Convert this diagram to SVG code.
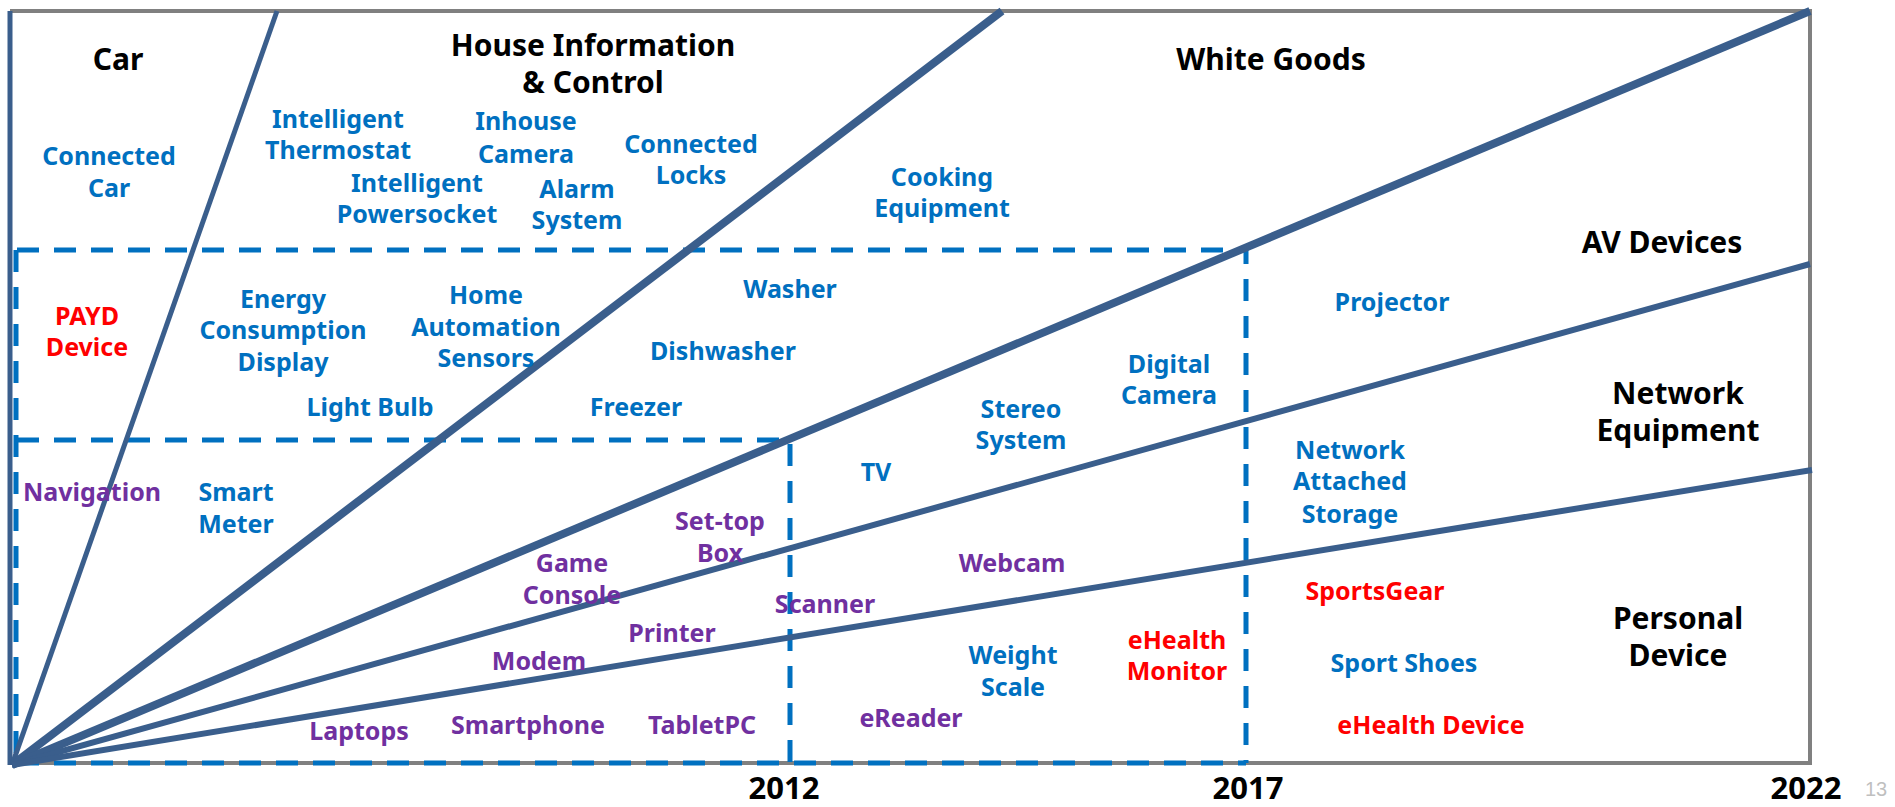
<svg xmlns="http://www.w3.org/2000/svg" width="1895" height="807" viewBox="0 0 1895 807">
<style>
text{font-family:"Noto Sans","Open Sans","Liberation Sans",sans-serif;font-weight:bold;text-anchor:middle}
.h{font-size:30px;fill:#000}
.b{font-size:25px;fill:#0070C0}
.p{font-size:25px;fill:#7030A0}
.r{font-size:25px;fill:#FF0000}
.y{font-size:31px;fill:#000}
.fan{stroke:#3A5E8C;fill:none;stroke-linecap:butt}
.dash{stroke:#0070C0;stroke-width:5;fill:none;stroke-dasharray:22 15}
</style>
<rect width="1895" height="807" fill="#fff"/>
<g id="connectors">
<path d="M10 763 H1810 V11 H10" fill="none" stroke="#808080" stroke-width="4"/>
<path class="dash" d="M17 250 H1246 V763 M17 440 H790 V763 M16 250 V763 M17 763 H1246"/>
<line class="fan" x1="10" y1="765" x2="10" y2="11" stroke-width="5"/>
<line class="fan" x1="12" y1="765" x2="277" y2="11" stroke-width="5"/>
<line class="fan" x1="12" y1="765" x2="1002" y2="11" stroke-width="8"/>
<line class="fan" x1="12" y1="765" x2="1810" y2="11" stroke-width="8"/>
<line class="fan" x1="12" y1="765" x2="1810" y2="264" stroke-width="6"/>
<line class="fan" x1="12" y1="765" x2="1812" y2="470" stroke-width="6"/>
</g>
<g id="cat-car"><text class="h" x="118" y="70">Car</text></g>
<g id="cat-house"><text class="h" x="593" y="56">House Information</text><text class="h" x="593" y="93">&amp; Control</text></g>
<g id="cat-white"><text class="h" x="1271" y="70">White Goods</text></g>
<g id="cat-av"><text class="h" x="1662" y="253">AV Devices</text></g>
<g id="cat-net"><text class="h" x="1678" y="404">Network</text><text class="h" x="1678" y="441">Equipment</text></g>
<g id="cat-personal"><text class="h" x="1678" y="629">Personal</text><text class="h" x="1678" y="666">Device</text></g>
<g id="y2012"><text class="y" x="784" y="799">2012</text></g>
<g id="y2017"><text class="y" x="1248" y="799">2017</text></g>
<g id="y2022"><text class="y" x="1806" y="799">2022</text></g>
<g id="page"><text x="1876" y="796" style="font-size:20px;font-weight:normal;fill:#BFBFBF;font-family:'Liberation Sans Narrow','Liberation Sans',sans-serif">13</text></g>

<g id="connected-car"><text class="b" x="109" y="165">Connected</text><text class="b" x="109" y="197">Car</text></g>
<g id="thermostat"><text class="b" x="338" y="128">Intelligent</text><text class="b" x="338" y="159">Thermostat</text></g>
<g id="inhouse-camera"><text class="b" x="526" y="130">Inhouse</text><text class="b" x="526" y="163">Camera</text></g>
<g id="powersocket"><text class="b" x="417" y="192">Intelligent</text><text class="b" x="417" y="223">Powersocket</text></g>
<g id="alarm"><text class="b" x="577" y="198">Alarm</text><text class="b" x="577" y="229">System</text></g>
<g id="locks"><text class="b" x="691" y="153">Connected</text><text class="b" x="691" y="184">Locks</text></g>
<g id="cooking"><text class="b" x="942" y="186">Cooking</text><text class="b" x="942" y="217">Equipment</text></g>
<g id="payd"><text class="r" x="87" y="325">PAYD</text><text class="r" x="87" y="356">Device</text></g>
<g id="energy"><text class="b" x="283" y="308">Energy</text><text class="b" x="283" y="339">Consumption</text><text class="b" x="283" y="371">Display</text></g>
<g id="home-auto"><text class="b" x="486" y="304">Home</text><text class="b" x="486" y="336">Automation</text><text class="b" x="486" y="367">Sensors</text></g>
<g id="washer"><text class="b" x="790" y="298">Washer</text></g>
<g id="dishwasher"><text class="b" x="723" y="360">Dishwasher</text></g>
<g id="lightbulb"><text class="b" x="370" y="416">Light Bulb</text></g>
<g id="freezer"><text class="b" x="636" y="416">Freezer</text></g>
<g id="digicam"><text class="b" x="1169" y="373">Digital</text><text class="b" x="1169" y="404">Camera</text></g>
<g id="stereo"><text class="b" x="1021" y="418">Stereo</text><text class="b" x="1021" y="449">System</text></g>
<g id="projector"><text class="b" x="1392" y="311">Projector</text></g>
<g id="tv"><text class="b" x="876" y="481">TV</text></g>
<g id="nas"><text class="b" x="1350" y="459">Network</text><text class="b" x="1350" y="490">Attached</text><text class="b" x="1350" y="523">Storage</text></g>
<g id="navigation"><text class="p" x="92" y="501">Navigation</text></g>
<g id="smartmeter"><text class="b" x="236" y="501">Smart</text><text class="b" x="236" y="533">Meter</text></g>
<g id="settop"><text class="p" x="720" y="530">Set-top</text><text class="p" x="720" y="562">Box</text></g>
<g id="game"><text class="p" x="572" y="572">Game</text><text class="p" x="572" y="604">Console</text></g>
<g id="webcam"><text class="p" x="1012" y="572">Webcam</text></g>
<g id="scanner"><text class="p" x="825" y="613">Scanner</text></g>
<g id="sportsgear"><text class="r" x="1375" y="600">SportsGear</text></g>
<g id="printer"><text class="p" x="672" y="642">Printer</text></g>
<g id="weight"><text class="b" x="1013" y="664">Weight</text><text class="b" x="1013" y="696">Scale</text></g>
<g id="ehealth-monitor"><text class="r" x="1177" y="649">eHealth</text><text class="r" x="1177" y="680">Monitor</text></g>
<g id="sportshoes"><text class="b" x="1404" y="672">Sport Shoes</text></g>
<g id="modem"><text class="p" x="539" y="670">Modem</text></g>
<g id="laptops"><text class="p" x="359" y="740">Laptops</text></g>
<g id="smartphone"><text class="p" x="528" y="734">Smartphone</text></g>
<g id="tabletpc"><text class="p" x="702" y="734">TabletPC</text></g>
<g id="ereader"><text class="p" x="911" y="727">eReader</text></g>
<g id="ehealth-device"><text class="r" x="1431" y="734">eHealth Device</text></g>
</svg>
